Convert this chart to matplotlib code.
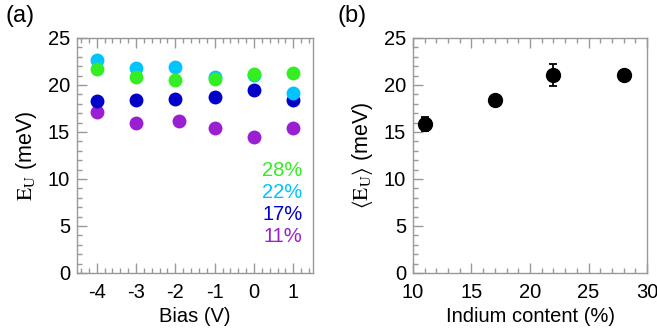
import numpy as np
import matplotlib
from matplotlib import pyplot as plt
from matplotlib.ticker import MultipleLocator

matplotlib.rcParams['font.family'] = ['Liberation Sans', 'DejaVu Sans']
matplotlib.rcParams['mathtext.fontset'] = 'stix'
matplotlib.rcParams['axes.unicode_minus'] = False

# panel (a): Urbach energy vs bias for each indium content
bias = [-4, -3, -2, -1, 0, 1]
bias_11 = [-4, -3, -1.9, -1, 0, 1]
eu_11 = [17.1, 15.95, 16.2, 15.4, 14.5, 15.4]
eu_17 = [18.3, 18.4, 18.55, 18.7, 19.45, 18.4]
eu_22 = [22.65, 21.8, 21.95, 20.8, 21.05, 19.2]
eu_28 = [21.7, 20.8, 20.5, 20.65, 21.2, 21.3]
labels = ['28%', '22%', '17%', '11%']

# panel (b): mean Urbach energy vs indium content
indium = [11, 17, 22, 28]
eu_mean = [15.85, 18.45, 21.05, 21.05]
eu_err = [0.7, 0.1, 1.15, 0.3]

c_11 = '#9a1fd2'
c_17 = '#0000c8'
c_22 = '#00c4ff'
c_28 = '#33ee22'
frame = '#999999'

fig = plt.figure(figsize=(6.57, 3.33), dpi=100)
ax1 = fig.add_axes([0.1172, 0.1802, 0.3592, 0.7057])
ax2 = fig.add_axes([0.6286, 0.1802, 0.3562, 0.7057])

ms = 10
ax1.plot(bias_11, eu_11, 'o', color=c_11, ms=ms, mec='none')
ax1.plot(bias, eu_17, 'o', color=c_17, ms=ms, mec='none')
ax1.plot(bias, eu_22, 'o', color=c_22, ms=ms, mec='none')
ax1.plot(bias, eu_28, 'o', color=c_28, ms=ms, mec='none')

ax1.set_xlim(-4.5, 1.5)
ax1.set_ylim(0, 25)
ax1.xaxis.set_major_locator(MultipleLocator(1))
ax1.xaxis.set_minor_locator(MultipleLocator(0.2))
ax1.set_xlabel('Bias (V)', fontsize=14.5, labelpad=4)
ax1.set_ylabel(r'$\mathrm{E_U}$ (meV)', fontsize=15.5, labelpad=6)

for i, (lab, col) in enumerate(zip(labels, [c_28, c_22, c_17, c_11])):
    ax1.text(0.955, 0.435 - i * 0.093, lab, color=col, fontsize=14.5,
             ha='right', va='center', transform=ax1.transAxes)

ax2.errorbar(indium, eu_mean, yerr=eu_err, fmt='o', color='black', ms=ms,
             capsize=3, elinewidth=1.3, capthick=1.3)
ax2.set_xlim(10, 30)
ax2.set_ylim(0, 25)
ax2.xaxis.set_major_locator(MultipleLocator(5))
ax2.xaxis.set_minor_locator(MultipleLocator(1))
ax2.set_xlabel('Indium content (%)', fontsize=14.5, labelpad=4)
ax2.set_ylabel(r'$\langle\mathrm{E_U}\rangle$ (meV)', fontsize=15.5, labelpad=6)

for ax in (ax1, ax2):
    ax.yaxis.set_major_locator(MultipleLocator(5))
    ax.yaxis.set_minor_locator(MultipleLocator(1))
    ax.tick_params(which='both', direction='in', top=True, right=False,
                   color=frame, labelsize=14.5)
    ax.tick_params(axis='x', pad=7)
    ax.tick_params(axis='y', pad=5)
    ax.tick_params(which='major', length=7, width=1)
    ax.tick_params(which='minor', length=3.5, width=1)
    for sp in ax.spines.values():
        sp.set_color(frame)
        sp.set_linewidth(1)

fig.text(0.008, 0.952, '(a)', fontsize=17, va='center')
fig.text(0.513, 0.952, '(b)', fontsize=17, va='center')

plt.savefig('out.png', dpi=100)
